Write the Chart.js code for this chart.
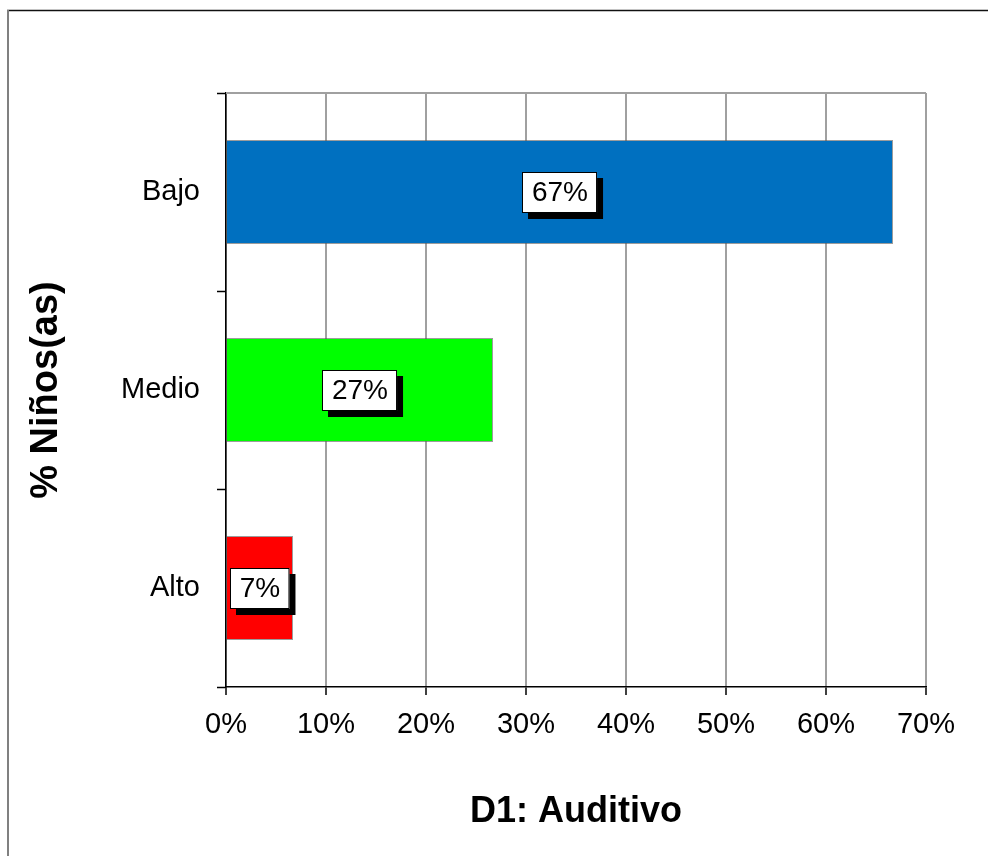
<!DOCTYPE html>
<html>
<head>
<meta charset="utf-8">
<script src="https://cdn.jsdelivr.net/npm/chart.js@4/dist/chart.umd.min.js"></script>
<style>
  body { margin: 0; background: #fff; }
  canvas { display: block; }
</style>
</head>
<body>
<canvas id="auditivoChart" width="988" height="856"></canvas>
<script>
// Data
const categories = ["Bajo", "Medio", "Alto"];
const percentValues = [66.7, 26.7, 6.7];
const barColors = ["#0070c0", "#00ff00", "#ff0000"];
const xTickMax = 70;
const xTickStep = 10;
const yTitle = "% Niños(as)";
const xTitle = "D1: Auditivo";

Chart.defaults.font.family = "'Liberation Sans', Arial, sans-serif";
Chart.defaults.color = "#000";

// outer frame of the picture + top border of the plot area
const framePlugin = {
  id: "frame",
  beforeDraw(chart) {
    const ctx = chart.ctx;
    ctx.save();
    ctx.strokeStyle = "#111";
    ctx.lineWidth = 1.5;
    ctx.beginPath();
    ctx.moveTo(7, 10.5);
    ctx.lineTo(chart.width, 10.5);
    ctx.stroke();
    ctx.strokeStyle = "#808080";
    ctx.lineWidth = 2;
    ctx.beginPath();
    ctx.moveTo(8, 10);
    ctx.lineTo(8, chart.height);
    ctx.stroke();
    ctx.restore();
  },
  beforeDatasetsDraw(chart) {
    const { ctx, chartArea } = chart;
    ctx.save();
    ctx.strokeStyle = "#a0a0a0";
    ctx.lineWidth = 2;
    ctx.beginPath();
    ctx.moveTo(chartArea.left, chartArea.top);
    ctx.lineTo(chartArea.right, chartArea.top);
    ctx.stroke();
    ctx.restore();
  },
};

// white value boxes with black drop shadow
const valueBoxPlugin = {
  id: "valueBoxes",
  afterDatasetsDraw(chart) {
    const ctx = chart.ctx;
    const meta = chart.getDatasetMeta(0);
    ctx.save();
    ctx.font = "28px 'Liberation Sans', Arial, sans-serif";
    ctx.textAlign = "center";
    ctx.textBaseline = "middle";
    meta.data.forEach((bar, i) => {
      const text = Math.round(percentValues[i]) + "%";
      const cx = (bar.base + bar.x) / 2;
      const cy = bar.y;
      const w = ctx.measureText(text).width + 19;
      const h = 41;
      const x0 = Math.round(cx - w / 2);
      const y0 = Math.round(cy - h / 2);
      ctx.fillStyle = "#000";
      ctx.fillRect(x0 + 6, y0 + 6, w, h);
      ctx.fillStyle = "#fff";
      ctx.fillRect(x0, y0, w, h);
      ctx.strokeStyle = "#000";
      ctx.lineWidth = 1;
      ctx.strokeRect(x0 + 0.5, y0 + 0.5, w - 1, h - 1);
      ctx.fillStyle = "#000";
      ctx.fillText(text, cx, cy + 1);
    });
    ctx.restore();
  },
};

new Chart(document.getElementById("auditivoChart").getContext("2d"), {
  type: "bar",
  data: {
    labels: categories,
    datasets: [
      {
        data: percentValues,
        backgroundColor: barColors,
        borderColor: "rgba(90, 90, 90, 0.6)",
        borderWidth: 1,
        categoryPercentage: 1,
        barPercentage: 0.525,
      },
    ],
  },
  options: {
    indexAxis: "y",
    responsive: false,
    animation: false,
    layout: { padding: { top: 93, right: 62, left: 0, bottom: 0 } },
    plugins: {
      legend: { display: false },
      tooltip: { enabled: false },
    },
    scales: {
      x: {
        min: 0,
        max: xTickMax,
        ticks: {
          stepSize: xTickStep,
          padding: 13,
          font: { size: 29 },
          callback: (v) => v + "%",
        },
        grid: {
          color: "#a0a0a0",
          lineWidth: 2,
          tickColor: "#000",
          tickLength: 8,
          tickWidth: 1.5,
        },
        border: { color: "#000", width: 1.5 },
        title: {
          display: true,
          text: xTitle,
          font: { size: 36, weight: "bold" },
          padding: { top: 0, bottom: 22 },
        },
        afterFit(scale) {
          scale.height = 169;
        },
      },
      y: {
        ticks: {
          padding: 17,
          font: { size: 29 },
        },
        grid: {
          offset: true,
          drawOnChartArea: false,
          tickColor: "#000",
          tickLength: 9,
          tickWidth: 1.5,
        },
        border: { color: "#000", width: 1.5 },
        title: {
          display: true,
          text: yTitle,
          font: { size: 38, weight: "bold" },
          padding: { top: 24, bottom: 0 },
        },
        afterFit(scale) {
          scale.width = 226;
        },
      },
    },
  },
  plugins: [framePlugin, valueBoxPlugin],
});
</script>
</body>
</html>
